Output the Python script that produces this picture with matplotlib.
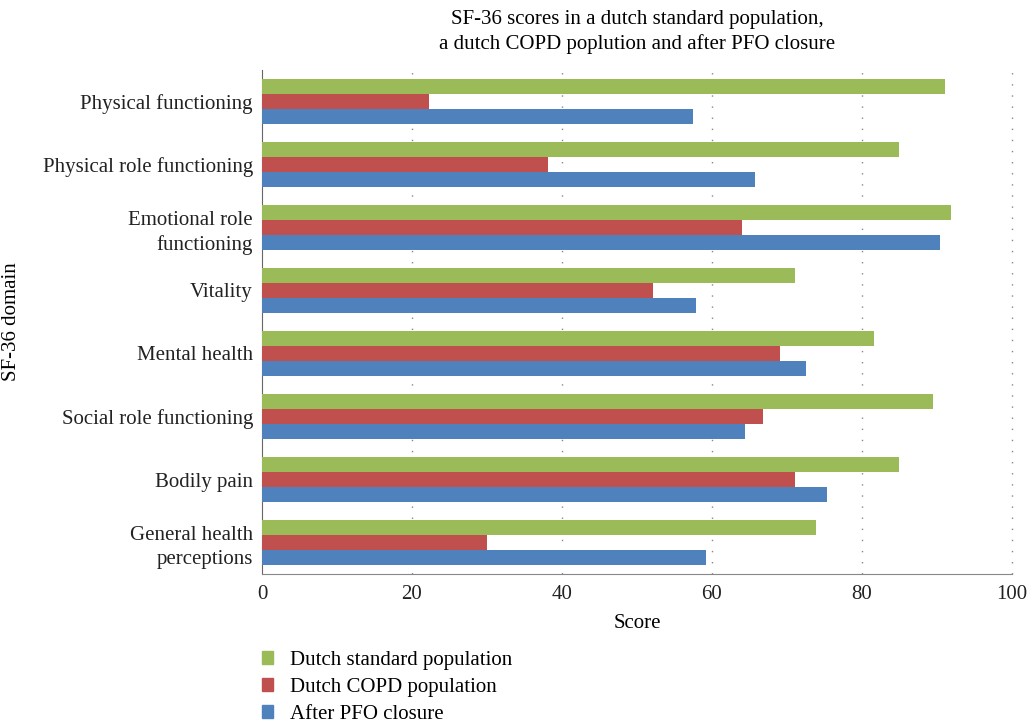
import numpy as np
import matplotlib.pyplot as plt
from matplotlib.patches import Patch

# بيانات المخطط
domains = ['Physical functioning', 'Physical role functioning', 'Emotional role\nfunctioning',
           'Vitality', 'Mental health', 'Social role functioning', 'Bodily pain',
           'General health\nperceptions']
standard = [91.1, 84.9, 91.9, 71.1, 81.6, 89.5, 84.9, 73.9]
copd = [22.3, 38.1, 64.0, 52.1, 69.1, 66.8, 71.1, 30.0]
after_pfo = [57.5, 65.7, 90.4, 57.9, 72.5, 64.4, 75.3, 59.2]
series_names = ['Dutch standard population', 'Dutch COPD population', 'After PFO closure']

colors = ['#9BBB59', '#C0504D', '#4F81BD']

plt.rcParams['font.family'] = ['Liberation Serif', 'DejaVu Serif']
fs = 15

fig = plt.figure(figsize=(10.28, 7.24), dpi=100)
ax = fig.add_axes([262 / 1028, 1 - 574 / 724, 750 / 1028, 504 / 724])

y = np.arange(len(domains))
h = 0.238
for k, vals in enumerate([standard, copd, after_pfo]):
    ax.barh(y + (k - 1) * h, vals, height=h, color=colors[k], zorder=3)

ax.set_xlim(0, 100)
ax.set_ylim(len(domains) - 0.5, -0.5)
ax.set_xticks([0, 20, 40, 60, 80, 100])
ax.set_yticks(y)
ax.set_yticklabels(domains, linespacing=1.35)
ax.tick_params(axis='both', length=0, labelsize=fs, colors='#222222')
ax.tick_params(axis='y', pad=6.5)
ax.tick_params(axis='x', pad=8)
for gx in [20, 40, 60, 80, 100]:
    ax.axvline(gx, linestyle=(0, (1, 7)), color='#888888', linewidth=1, zorder=0, clip_on=False)

for s in ['top', 'right']:
    ax.spines[s].set_visible(False)
ax.spines['left'].set_color('#666666')
ax.spines['bottom'].set_color('#888888')

ax.set_xlabel('Score', fontsize=fs, labelpad=7)
fig.text(12 / 1028, 1 - 322 / 724, 'SF-36 domain', rotation=90, fontsize=fs,
         ha='center', va='center')
fig.text(637 / 1028, 1 - 32 / 724,
         'SF-36 scores in a dutch standard population,\na dutch COPD poplution and after PFO closure',
         ha='center', va='center', fontsize=fs, linespacing=1.4)

handles = [Patch(color=c) for c in colors]
fig.legend(handles, series_names, loc='upper left', bbox_to_anchor=(262 / 1028, 1 - 651 / 724),
           frameon=False, fontsize=fs, handlelength=0.55, handleheight=0.55,
           handletextpad=0.8, labelspacing=0.38, borderaxespad=0, borderpad=0)

fig.savefig('out.png', dpi=100)
